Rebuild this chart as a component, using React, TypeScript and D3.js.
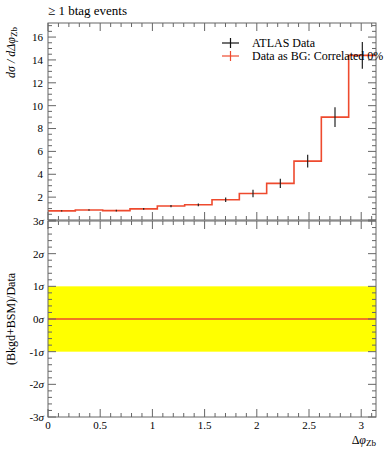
import * as d3 from 'd3';
import React from 'react';

// bin contents (12 bins of pi/12)
const binEdges = d3.range(13).map(i => (i * Math.PI) / 12);
const dataValues = [0.8, 0.88, 0.82, 0.97, 1.22, 1.33, 1.77, 2.32, 3.2, 5.15, 9.0, 14.4];
const dataErrors = [0.06, 0.07, 0.07, 0.08, 0.1, 0.12, 0.2, 0.32, 0.4, 0.55, 0.87, 1.17];

const xTicks = [0, 0.5, 1, 1.5, 2, 2.5, 3];
const xTickLabels = ['0', '0.5', '1', '1.5', '2', '2.5', '3'];
const yTicks = [2, 4, 6, 8, 10, 12, 14, 16];
const ratioTicks = [-3, -2, -1, 0, 1, 2, 3];
const ratioLabels = ['-3\u03c3', '-2\u03c3', '-1\u03c3', '0\u03c3', '1\u03c3', '2\u03c3', '3\u03c3'];

const legendLabels = ['ATLAS Data', 'Data as BG: Correlated 0%'];

const RED = '#ee4a2e';
const AXIS = '#666';
const FONT = '"Liberation Serif", "DejaVu Serif", serif';

const left = 48;
const right = 376;
const mainTop = 23;
const split = 220;
const bottom = 417;

export default function App() {
    const x = d3.scaleLinear().domain([0, Math.PI]).range([left, right]);
    const y = d3.scaleLinear().domain([0, 17.23]).range([split, mainTop]);
    const yr = d3.scaleLinear().domain([-3, 3]).range([bottom, split + 1]);

    // step line through bins
    const stepPts: [number, number][] = [];
    dataValues.forEach((v, i) => {
        stepPts.push([binEdges[i], v]);
        stepPts.push([binEdges[i + 1], v]);
    });
    const stepLine = d3.line<[number, number]>()
        .x(d => x(d[0]))
        .y(d => y(d[1]));

    const xMinor = d3.range(0, 3.15, 0.1).filter(t => t <= Math.PI);
    const yMinor = d3.range(0, 17.2, 0.5);
    const rMinor = d3.range(-3, 3.01, 0.2);

    const isMajorX = (t: number) => Math.abs(t * 2 - Math.round(t * 2)) < 1e-6;

    const tickLen = 8;
    const minorLen = 4;

    return (
        <svg width={389} height={450} style={{ position: 'absolute', left: 0, top: 0, background: '#fff' }}
            fontFamily={FONT}>
            {/* title */}
            <text x={left} y={15} fontSize={13}>{'\u2265 1 btag events'}</text>

            {/* ratio band */}
            <rect x={left} y={yr(1)} width={right - left} height={yr(-1) - yr(1)} fill="#ffff00" />
            <line x1={left} x2={right} y1={yr(0)} y2={yr(0)} stroke={RED} strokeWidth={1.5} />

            {/* main histogram */}
            <path d={stepLine(stepPts) || ''} fill="none" stroke={RED} strokeWidth={1.6} />
            {dataValues.map((v, i) => {
                const cx = x((binEdges[i] + binEdges[i + 1]) / 2);
                return (
                    <line key={'e' + i} x1={cx} x2={cx} y1={y(v - dataErrors[i])} y2={y(v + dataErrors[i])}
                        stroke="#222" strokeWidth={1.2} />
                );
            })}

            {/* frames */}
            <rect x={left} y={mainTop} width={right - left} height={split - mainTop} fill="none" stroke={AXIS} strokeWidth={1} />
            <rect x={left} y={split + 1} width={right - left} height={bottom - split - 1} fill="none" stroke={AXIS} strokeWidth={1} />

            {/* x ticks on all horizontal edges */}
            {xMinor.map((t, i) => {
                const len = isMajorX(t) ? tickLen : minorLen;
                const xx = x(t);
                return (
                    <g key={'xt' + i} stroke={AXIS} strokeWidth={1}>
                        <line x1={xx} x2={xx} y1={mainTop} y2={mainTop + len} />
                        <line x1={xx} x2={xx} y1={split} y2={split - len} />
                        <line x1={xx} x2={xx} y1={split + 1} y2={split + 1 + len} />
                        <line x1={xx} x2={xx} y1={bottom} y2={bottom - len} />
                    </g>
                );
            })}

            {/* main y ticks */}
            {yMinor.map((t, i) => {
                const len = Math.abs(t % 2) < 1e-6 ? tickLen : minorLen;
                const yy = y(t);
                return (
                    <g key={'yt' + i} stroke={AXIS} strokeWidth={1}>
                        <line x1={left} x2={left + len} y1={yy} y2={yy} />
                        <line x1={right} x2={right - len} y1={yy} y2={yy} />
                    </g>
                );
            })}
            {yTicks.map(t => (
                <text key={'yl' + t} x={43} y={y(t)} dy="0.35em" textAnchor="end" fontSize={11}>{t}</text>
            ))}

            {/* ratio y ticks */}
            {rMinor.map((t, i) => {
                const major = Math.abs(t - Math.round(t)) < 1e-6;
                const len = major ? tickLen : minorLen;
                const yy = yr(t);
                return (
                    <g key={'rt' + i} stroke={AXIS} strokeWidth={1}>
                        <line x1={left} x2={left + len} y1={yy} y2={yy} />
                        <line x1={right} x2={right - len} y1={yy} y2={yy} />
                    </g>
                );
            })}
            {ratioTicks.map((t, i) => (
                <text key={'rl' + t} x={44} y={yr(t)} dy="0.35em" textAnchor="end" fontSize={11}>
                    {ratioLabels[i].slice(0, -1)}
                    <tspan fontStyle="italic">{'\u03c3'}</tspan>
                </text>
            ))}

            {/* x tick labels */}
            {xTicks.map((t, i) => (
                <text key={'xl' + t} x={x(t)} y={429} textAnchor="middle" fontSize={11}>{xTickLabels[i]}</text>
            ))}

            {/* axis titles */}
            <text x={right} y={444} textAnchor="end" fontSize={12}>
                {'\u0394'}<tspan fontStyle="italic">{'\u03c6'}</tspan><tspan fontSize={9} dy={2}>Zb</tspan>
            </text>
            <text transform={`translate(15, ${mainTop + 4}) rotate(-90)`} textAnchor="end" fontSize={12} fontStyle="italic">
                {'d\u03c3 / d\u0394\u03c6'}<tspan fontSize={9} dy={2} fontStyle="normal">Zb</tspan>
            </text>
            <text transform={`translate(15, ${yr(0)}) rotate(-90)`} textAnchor="middle" fontSize={12}>
                (Bkgd+BSM)/Data
            </text>

            {/* legend */}
            {legendLabels.map((lab, i) => {
                const ly = 43 + i * 13;
                const col = i === 0 ? '#111' : RED;
                return (
                    <g key={'lg' + i}>
                        <line x1={222} x2={239} y1={ly} y2={ly} stroke={col} strokeWidth={1.2} />
                        <line x1={230.5} x2={230.5} y1={ly - 5} y2={ly + 5} stroke={col} strokeWidth={1.2} />
                        <text x={252} y={ly} dy="0.35em" fontSize={12}>{lab}</text>
                    </g>
                );
            })}
        </svg>
    );
}
